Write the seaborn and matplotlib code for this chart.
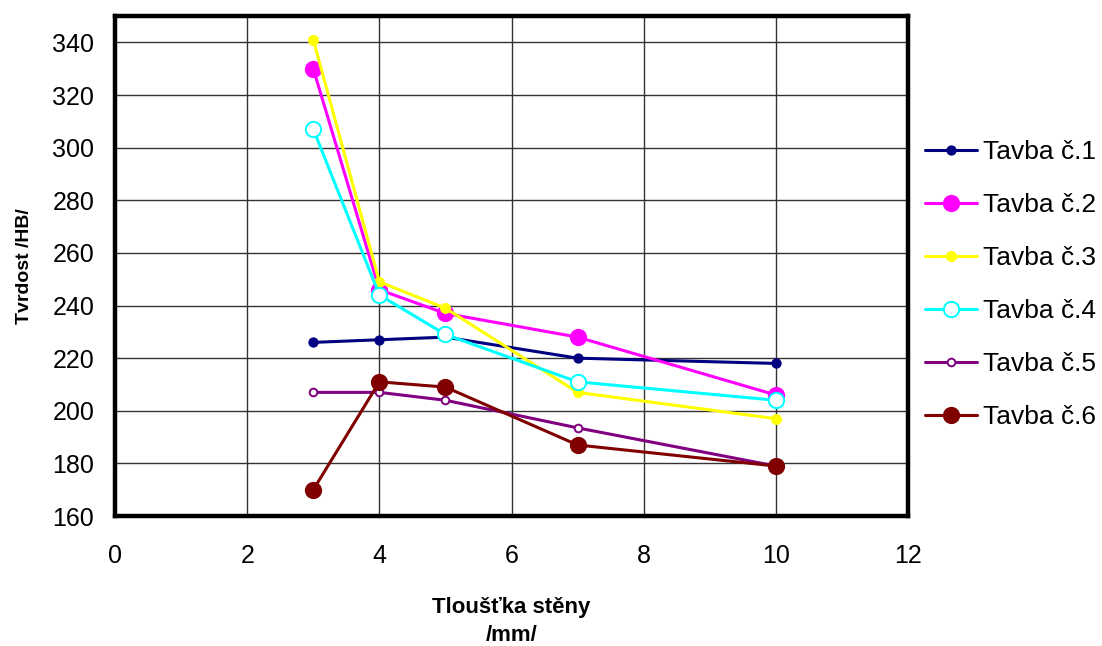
import pandas as pd
import seaborn as sns
import matplotlib.pyplot as plt

thickness = [3, 4, 5, 7, 10]
tavba1 = [226, 227, 228, 220, 218]
tavba2 = [330, 246, 237, 228, 206]
tavba3 = [341, 249, 239, 207, 197]
tavba4 = [307, 244, 229, 211, 204]
tavba5 = [207, 207, 204, 193.5, 179]
tavba6 = [170, 211, 209, 187, 179]
labels = ["Tavba č.1", "Tavba č.2", "Tavba č.3", "Tavba č.4", "Tavba č.5", "Tavba č.6"]
x_ticks = [0, 2, 4, 6, 8, 10, 12]
y_ticks = [160, 180, 200, 220, 240, 260, 280, 300, 320, 340]

rows = []
for name, vals in zip(labels, [tavba1, tavba2, tavba3, tavba4, tavba5, tavba6]):
    for x, y in zip(thickness, vals):
        rows.append({"tl": x, "hb": y, "tavba": name})
df = pd.DataFrame(rows)

# colour, marker size, filled?
styles = {
    "Tavba č.1": ("#000080", 6, True),
    "Tavba č.2": ("#ff00ff", 11, True),
    "Tavba č.3": ("#ffff00", 6.5, True),
    "Tavba č.4": ("#00ffff", 11, False),
    "Tavba č.5": ("#800080", 5.5, False),
    "Tavba č.6": ("#800000", 11, True),
}

sns.set_style("white")
plt.rcParams["font.family"] = ["Liberation Sans", "DejaVu Sans"]
plt.rcParams["text.color"] = "black"
plt.rcParams["axes.labelcolor"] = "black"

fig = plt.figure(figsize=(11.02, 6.46), dpi=100)
ax = fig.add_axes([0.1044, 0.2012, 0.7196, 0.7738])

for name in labels:
    color, ms, filled = styles[name]
    sns.lineplot(
        data=df[df["tavba"] == name],
        x="tl",
        y="hb",
        color=color,
        linewidth=2.2,
        marker="o",
        markersize=ms,
        markerfacecolor=color if filled else "white",
        markeredgecolor=color,
        markeredgewidth=1.4,
        label=name,
        ax=ax,
    )

ax.set_xlim(0, 12)
ax.set_ylim(160, 350)
ax.set_xticks(x_ticks)
ax.set_yticks(y_ticks)
ax.grid(True, color="#333333", linewidth=1)
ax.set_axisbelow(True)
for s in ax.spines.values():
    s.set_color("black")
    s.set_linewidth(3.2)
ax.tick_params(axis="both", direction="out", length=4, width=1, colors="black", labelsize=18)
ax.tick_params(axis="x", pad=16)
ax.tick_params(axis="y", pad=11)

ax.set_xlabel("Tloušťka stěny\n/mm/", fontsize=16, fontweight="bold", labelpad=21, linespacing=1.42)
ax.set_ylabel("Tvrdost /HB/", fontsize=14, fontweight="bold", labelpad=14)

ax.legend(
    loc="center left",
    bbox_to_anchor=(0.8394, 0.559),
    bbox_transform=fig.transFigure,
    frameon=False,
    fontsize=19,
    labelcolor="black",
    handlelength=1.97,
    labelspacing=1.1,
    handletextpad=0.23,
    borderpad=0,
    borderaxespad=0,
)

plt.savefig("out.png", dpi=100)
